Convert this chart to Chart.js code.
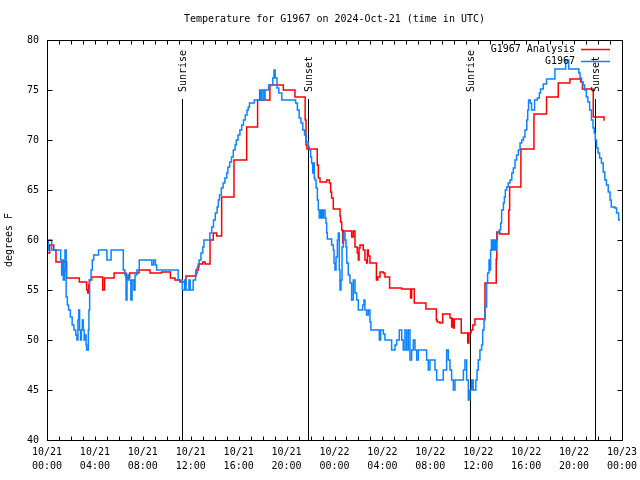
<!DOCTYPE html>
<html>
<head>
<meta charset="utf-8">
<script src="https://cdn.jsdelivr.net/npm/chart.js@4/dist/chart.umd.min.js"></script>
<style>
  html, body { margin: 0; padding: 0; background: #ffffff; }
  #wrap { width: 640px; height: 480px; }
</style>
</head>
<body>
<div id="wrap"><canvas id="c" width="640" height="480"></canvas></div>
<script>
// ---------------- DATA ----------------
const chartTitle = 'Temperature for G1967 on 2024-Oct-21 (time in UTC)';
const yAxisTitle = 'degrees F';

// hours since 2024-10-21 00:00 UTC
const xTickHours = [0, 4, 8, 12, 16, 20, 24, 28, 32, 36, 40, 44, 48];
const xTickLabels = [
  ['10/21', '00:00'], ['10/21', '04:00'], ['10/21', '08:00'], ['10/21', '12:00'],
  ['10/21', '16:00'], ['10/21', '20:00'], ['10/22', '00:00'], ['10/22', '04:00'],
  ['10/22', '08:00'], ['10/22', '12:00'], ['10/22', '16:00'], ['10/22', '20:00'],
  ['10/23', '00:00']
];
const yTickValues = [40, 45, 50, 55, 60, 65, 70, 75, 80];

const seriesNames = ['G1967 Analysis', 'G1967'];

// G1967 Analysis (red)
const analysisHours = [
  0, 0.22, 0.56, 0.75, 1.64, 2.7, 3.31, 3.4, 3.48, 3.53, 3.73, 4.65, 4.8, 5.6, 6.6, 6.9, 7.68, 8.6, 9.57,
  10.3, 10.68, 11.1, 11.5, 11.6, 12.44, 12.63, 13.0, 13.2, 13.61, 13.88, 14.16, 14.58, 15.61, 16.67, 17.58,
  18.61, 19.73, 20.7, 21.55, 21.62, 21.7, 22.56, 22.65, 22.79, 23.35, 23.57, 23.68, 23.76, 23.9, 24.46,
  24.51, 24.6, 24.68, 24.75, 25.43, 25.57, 25.71, 25.9, 25.99, 26.05, 26.13, 26.4, 26.54, 26.68, 26.75,
  26.82, 26.96, 27.5, 27.62, 27.8, 28.08, 28.21, 28.6, 29.6, 30.35, 30.44, 30.66, 31.63, 32.5, 32.58,
  32.8, 33.03, 33.64, 33.78, 33.85, 33.92, 34.0, 34.58, 35.12, 35.22, 35.4, 35.55, 35.72, 36.56, 37.5,
  37.55, 37.8, 38.55, 38.62, 39.56, 40.65, 41.7, 42.68, 43.65, 44.55, 44.7, 45.6, 46.5, 46.55
];
const analysisTemps = [
  58.7, 59.5, 59, 57.8, 56.2, 55.8, 55, 54.7, 55.5, 56, 56.3, 55, 56.2, 56.7, 56.2, 56.7, 57, 56.7, 56.8,
  56.2, 56, 55.8, 55.5, 56.4, 57, 57.6, 57.8, 57.6, 60, 60.7, 60.4, 64.3, 68, 71.3, 74,
  75.5, 75, 74.3, 72, 69.5, 69.1, 67.5, 66.2, 65.8, 66, 65.7, 64.8, 64.2, 63.1, 62.4,
  61.8, 61, 59.7, 60.9, 60.3, 60.9, 59.3, 58.7, 58, 59.2, 59.5, 59, 58, 57.7, 59,
  58.4, 57.7, 56, 56.3, 56.8, 56.7, 56.3, 55.2, 55.1, 54.2, 55.1, 53.7, 53.1, 52, 51.8,
  51.7, 52.6, 52.2, 51.3, 52.1, 51.2, 52.1, 50.7, 49.7, 50.7, 51, 51.5, 52.1, 55.7, 58.1,
  60.8, 60.6, 63, 65.3, 69.1, 72.6, 74.3, 75.7, 76.1, 75.8, 75.1, 72.3, 72, 72
];

// G1967 observations (blue)
const obsHours = [
  0, 0.11, 0.39, 1.14, 1.22, 1.3, 1.36, 1.45, 1.5, 1.6, 1.7, 1.8, 1.95, 2.1, 2.25, 2.4, 2.5, 2.58, 2.65,
  2.72, 2.8, 2.87, 2.95, 3.03, 3.1, 3.2, 3.26, 3.31, 3.45, 3.5, 3.56, 3.68, 3.78, 3.9, 4.3, 5.0, 5.35,
  6.37, 6.5, 6.6, 6.68, 6.8, 7.0, 7.1, 7.25, 7.35, 7.5, 7.7, 8.75, 8.9, 9.05, 9.15, 10.95, 11.3, 11.5,
  11.6, 11.85, 11.95, 12.2, 12.4, 12.55, 12.7, 12.85, 13.0, 13.1, 13.6, 13.75, 13.9, 14.05, 14.2, 14.3,
  14.4, 14.55, 14.7, 14.85, 15.0, 15.1, 15.25, 15.4, 15.55, 15.7, 15.8, 15.95, 16.1, 16.25, 16.4, 16.55,
  16.7, 16.8, 16.9, 17.3, 17.75, 17.85, 17.95, 18.1, 18.2, 18.5, 18.85, 18.95, 19.05, 19.2, 19.35, 19.6,
  20.75, 20.9, 21.05, 21.2, 21.35, 21.5, 21.65, 21.8, 21.9, 22.01, 22.09, 22.18, 22.23, 22.31, 22.37,
  22.46, 22.57, 22.65, 22.73, 22.84, 22.96, 23.07, 23.21, 23.29, 23.35, 23.4, 23.76, 23.9, 23.96, 24.04,
  24.13, 24.24, 24.32, 24.4, 24.46, 24.54, 24.63, 24.74, 24.88, 24.96, 25.02, 25.15, 25.29, 25.43, 25.57,
  25.71, 25.85, 25.99, 26.35, 26.46, 26.54, 26.68, 26.82, 26.96, 27.04, 27.74, 27.85, 28.08, 28.21, 28.77,
  29.05, 29.19, 29.41, 29.61, 29.74, 29.88, 30.02, 30.16, 30.3, 30.44, 30.58, 30.72, 30.86, 31.0, 31.69,
  31.83, 31.97, 32.39, 32.53, 33.08, 33.36, 33.5, 33.64, 33.78, 33.92, 34.06, 34.76, 34.89, 35.03, 35.17,
  35.3, 35.45, 35.58, 35.8, 35.9, 36.0, 36.14, 36.28, 36.37, 36.48, 36.56, 36.7, 36.78, 36.9, 36.95,
  37.03, 37.1, 37.2, 37.3, 37.4, 37.5, 37.6, 37.75, 37.87, 37.95, 38.1, 38.18, 38.26, 38.37, 38.5, 38.65,
  38.8, 38.93, 39.07, 39.2, 39.35, 39.49, 39.63, 39.77, 39.9, 40.05, 40.13, 40.2, 40.35, 40.45, 40.7,
  40.93, 41.1, 41.2, 41.43, 41.7, 42.4, 43.3, 43.55, 44.4, 44.5, 44.62, 44.75, 44.88, 45.02, 45.15, 45.3,
  45.45, 45.58, 45.68, 45.77, 45.88, 46.0, 46.13, 46.28, 46.43, 46.57, 46.7, 46.85, 47.0, 47.1, 47.4,
  47.55, 47.72, 47.85
];
const obsTemps = [
  59, 60, 59, 58, 56.5, 58, 56, 57, 59, 54.3, 53.5, 53, 52.3, 51.5, 51, 50.5, 50, 52, 53,
  51, 50, 51, 52, 51, 50, 50.5, 49.5, 49, 51, 53, 56, 57, 58, 58.5, 59, 58, 59,
  57, 56.5, 54, 56.5, 56, 54, 56, 55, 56.5, 57, 58, 57.5, 58, 57.5, 57, 56, 55, 56,
  55, 56, 55, 56, 56.7, 57.3, 58, 58.7, 59.3, 60, 60.7, 61.3, 62, 62.7, 63.3, 64,
  64.5, 65.2, 65.7, 66.2, 66.7, 67.3, 67.8, 68.3, 69, 69.5, 70, 70.5, 71, 71.5, 72, 72.5,
  73, 73.3, 73.7, 74, 75, 74, 75, 74, 75, 75.5, 76.2, 77, 76.2, 75.2, 74.7, 74,
  73.7, 73, 72.2, 71.7, 71, 70.5, 69.8, 69.3, 69, 68.3, 67.7, 66.7, 67.7, 66.2, 66,
  65.2, 64, 63, 62.2, 63, 62.2, 63, 62.2, 61.7, 60.7, 60.1, 59.5, 59, 57.7, 57,
  58.3, 60, 60.7, 57, 55, 56, 59.3, 60.7, 60, 59.3, 57.7, 56.5, 55.7, 54, 56,
  54.7, 54, 53, 53.5, 54, 53, 52.5, 53, 51.8, 51, 50, 51, 50.6, 50, 49,
  49.5, 50, 51, 50, 49, 51, 49, 51, 48, 49, 50, 49, 48, 49, 48,
  47, 48, 47, 46, 47, 49, 48, 47, 46, 45, 46, 47, 48, 46, 44,
  45, 46, 45, 46, 47, 48, 49, 49.5, 51, 52, 53.3, 55.7, 56.7, 58, 57,
  59, 60, 59, 60, 59, 60, 60.7, 61, 61.7, 63, 63.7, 64.3, 65, 65.3, 65.7, 66,
  66.7, 67.2, 68, 68.5, 69, 69.7, 70, 70.3, 71, 72, 73, 74, 73.7, 73, 74,
  74.2, 74.7, 75.1, 75.6, 76.1, 77.1, 78, 77.1, 76.7, 76.2, 75.8, 75.5, 75, 74.3, 73.8, 73,
  72, 71.2, 70.7, 70, 69.2, 68.7, 68.2, 67.7, 66.8, 66, 65.5, 64.8, 64, 63.3, 63.2,
  62.7, 62, 62
];

// Sunrise / sunset markers
const eventHours = [11.31, 21.83, 35.35, 45.79];
const eventLabels = ['Sunrise', 'Sunset', 'Sunrise', 'Sunset'];
const eventLineTop = 74.1;
const eventLabelStart = 74.8;

// ---------------- STYLE ----------------
const MONO = "'DejaVu Sans Mono', 'Liberation Mono', monospace";
const RED = '#ff0000';
const BLUE = '#0a84ff';

function toPoints(xs, ys) { return xs.map((x, i) => ({ x: x, y: ys[i] })); }

const eventDatasets = eventHours.map((h) => ({
  label: '',
  isEvent: true,
  data: [{ x: h, y: 40 }, { x: h, y: eventLineTop }],
  borderColor: '#000000',
  borderWidth: 1,
  pointRadius: 0,
  order: 5
}));

const framePlugin = {
  id: 'gnuplotFrame',
  afterDatasetsDraw(chart) {
    const ctx = chart.ctx, a = chart.chartArea;
    const xs = chart.scales.x, ys = chart.scales.y;
    const L = Math.round(a.left), R = Math.round(a.right), T = Math.round(a.top), B = Math.round(a.bottom);
    ctx.save();
    ctx.strokeStyle = '#000000';
    ctx.lineWidth = 1;
    ctx.beginPath();
    ctx.rect(L + 0.5, T + 0.5, R - L, B - T);
    // x ticks every hour, inward on bottom and top
    for (let h = 0; h <= 48; h++) {
      const px = Math.round(xs.getPixelForValue(h)) + 0.5;
      ctx.moveTo(px, B + 0.5); ctx.lineTo(px, B + 0.5 - 4);
      ctx.moveTo(px, T + 0.5); ctx.lineTo(px, T + 0.5 + 4);
    }
    // y ticks, inward on left and right
    yTickValues.forEach((v) => {
      const py = Math.round(ys.getPixelForValue(v)) + 0.5;
      ctx.moveTo(L + 0.5, py); ctx.lineTo(L + 0.5 + 5, py);
      ctx.moveTo(R + 0.5, py); ctx.lineTo(R + 0.5 - 5, py);
    });
    ctx.stroke();

    // event labels (rotated)
    ctx.fillStyle = '#000000';
    ctx.font = '10px ' + MONO;
    ctx.textAlign = 'left';
    ctx.textBaseline = 'middle';
    eventHours.forEach((h, i) => {
      const px = xs.getPixelForValue(h);
      const py = ys.getPixelForValue(eventLabelStart);
      ctx.save();
      ctx.translate(px + 1, py);
      ctx.rotate(-Math.PI / 2);
      ctx.fillText(eventLabels[i], 0, 0);
      ctx.restore();
    });

    // legend (top right, text right-aligned, sample to the right)
    const series = chart.data.datasets.filter((d) => !d.isEvent);
    ctx.textAlign = 'right';
    series.forEach((d, i) => {
      const y = a.top + 9.5 + 12 * i;
      ctx.fillStyle = '#000000';
      ctx.fillText(d.label, a.right - 47, y);
      ctx.strokeStyle = d.borderColor;
      ctx.lineWidth = 1.5;
      ctx.beginPath();
      ctx.moveTo(a.right - 41, y);
      ctx.lineTo(a.right - 12, y);
      ctx.stroke();
    });
    ctx.restore();
  }
};

new Chart(document.getElementById('c'), {
  type: 'line',
  data: {
    datasets: [
      {
        label: seriesNames[0],
        data: toPoints(analysisHours, analysisTemps),
        borderColor: RED,
        backgroundColor: RED,
        borderWidth: 1.5,
        pointRadius: 0,
        stepped: true,
        tension: 0,
        order: 2
      },
      {
        label: seriesNames[1],
        data: toPoints(obsHours, obsTemps),
        borderColor: BLUE,
        backgroundColor: BLUE,
        borderWidth: 1.5,
        pointRadius: 0,
        stepped: true,
        tension: 0,
        order: 1
      }
    ].concat(eventDatasets)
  },
  options: {
    responsive: false,
    devicePixelRatio: 1,
    animation: false,
    events: [],
    layout: { padding: { left: 0, right: 18, top: 0, bottom: 0 } },
    plugins: {
      legend: { display: false },
      tooltip: { enabled: false },
      title: {
        display: true,
        text: chartTitle,
        fullSize: false,
        color: '#000000',
        font: { family: MONO, size: 10, weight: 'normal', lineHeight: 1.2 },
        padding: { top: 13, bottom: 15 }
      }
    },
    scales: {
      x: {
        type: 'linear',
        min: 0,
        max: 48,
        afterFit(scale) { scale.height = 40; scale.paddingLeft = 0; scale.paddingRight = 0; },
        afterBuildTicks(scale) { scale.ticks = xTickHours.map((v) => ({ value: v })); },
        grid: { display: false, drawTicks: false },
        border: { display: false },
        ticks: {
          autoSkip: false,
          maxRotation: 0,
          minRotation: 0,
          padding: 6,
          color: '#000000',
          font: { family: MONO, size: 10, lineHeight: 1.35 },
          callback(value) {
            const i = xTickHours.indexOf(value);
            return i >= 0 ? xTickLabels[i] : '';
          }
        }
      },
      y: {
        type: 'linear',
        min: 40,
        max: 80,
        afterFit(scale) { scale.width = 47; scale.paddingTop = 0; scale.paddingBottom = 0; },
        afterBuildTicks(scale) { scale.ticks = yTickValues.map((v) => ({ value: v })); },
        grid: { display: false, drawTicks: false },
        border: { display: false },
        ticks: {
          padding: 8,
          color: '#000000',
          font: { family: MONO, size: 10 }
        },
        title: {
          display: true,
          text: yAxisTitle,
          color: '#000000',
          font: { family: MONO, size: 10, lineHeight: 1.2 },
          padding: { top: 3, bottom: 0 }
        }
      }
    }
  },
  plugins: [framePlugin]
});
</script>
</body>
</html>
